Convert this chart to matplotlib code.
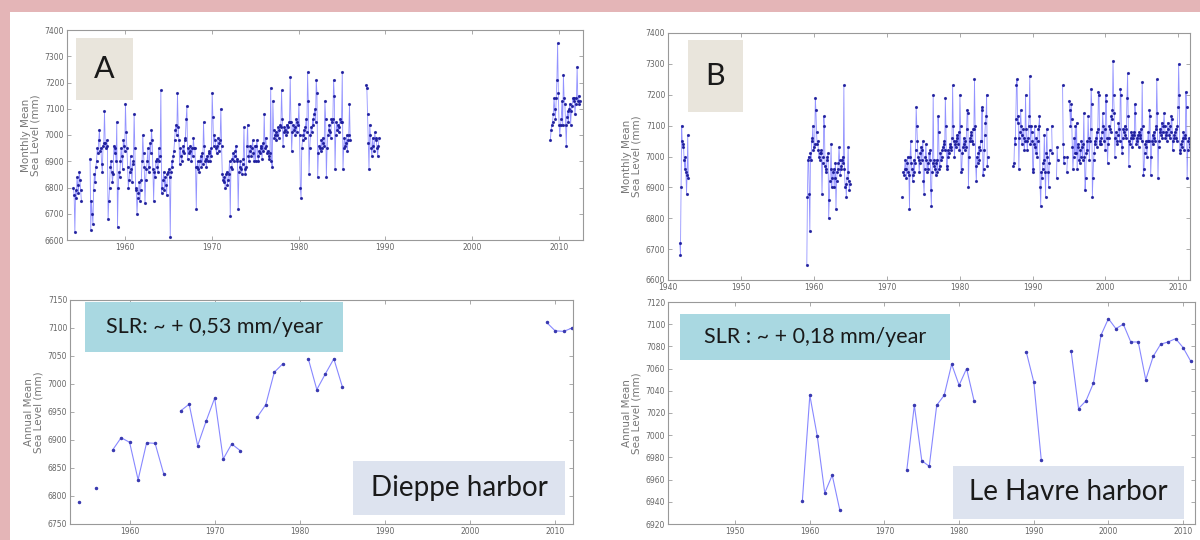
import numpy as np
import matplotlib.pyplot as plt
from matplotlib.patches import Rectangle

N = None

# Dieppe monthly mean sea level (mm), one row per year, Jan..Dec
dieppe_month_years = list(range(1954, 1990)) + [2009, 2010, 2011, 2012]
dieppe_monthly = [
    [6800, 6770, 6630, 6790, 6760, 6840, 6810, 6780, 6860, 6830, 6790, 6750],
    [N, N, N, N, N, N, N, N, N, N, N, 6910],
    [6640, 6750, 6700, 6660, 6790, 6850, 6820, 6880, 6900, 6950, 6930, 6980],
    [7020, 6940, 6950, 6890, 6860, 6960, 6970, 7090, 6970, 6950, 6980, 6960],
    [6680, 6750, 6800, 6880, 6900, 6860, 6820, 6850, 6960, 6930, 6950, 6900],
    [7050, 6650, 6800, 6860, 6840, 6900, 6950, 6920, 6870, 6980, 6960, 6940],
    [7120, 7010, 6950, 6880, 6800, 6830, 6860, 6920, 6870, 6820, 6890, 6900],
    [7080, 6950, 6800, 6790, 6700, 6760, 6780, 6820, 6750, 6790, 6830, 6900],
    [7000, 6930, 6880, 6740, 6830, 6870, 6900, 6950, 6860, 6880, 6970, 6930],
    [7020, 6980, 6870, 6750, 6860, 6840, 6900, 6910, 6880, 6860, 6950, 6900],
    [6920, 7170, 6780, 6800, 6830, 6860, 6790, 6840, 6810, 6770, 6850, 6860],
    [6870, 6840, 6610, 6860, 6900, 6880, 6920, 6940, 6980, 7020, 7040, 7000],
    [7160, 7030, 6980, 6890, 6950, 6920, 6900, 6940, 6960, 6930, 6980, 6990],
    [7060, 7110, 6910, 6950, 6930, 6940, 6960, 6900, 6950, 6920, 6990, 6950],
    [6950, 6880, 6720, 6880, 6900, 6870, 6860, 6900, 6920, 6880, 6930, 6890],
    [7050, 6960, 6900, 6910, 6880, 6920, 6900, 6930, 6940, 6900, 6950, 6920],
    [7160, 7070, 6960, 7000, 6980, 6950, 6930, 6960, 6990, 6940, 6970, 6980],
    [7100, 6960, 6850, 6830, 6820, 6840, 6800, 6850, 6860, 6810, 6830, 6850],
    [6900, 6690, 6880, 6870, 6910, 6930, 6900, 6920, 6940, 6960, 6910, 6900],
    [6720, 6860, 6880, 6900, 6870, 6850, 6890, 6910, 7030, 6870, 6850, 6880],
    [6960, 7040, 6920, 6900, 6940, 6960, 6920, 6950, 6980, 6930, 6900, 6960],
    [6900, 6960, 6980, 6920, 6900, 6940, 6930, 6960, 6950, 6910, 6970, 6940],
    [7080, 6950, 6990, 6960, 6930, 6940, 6920, 6910, 6930, 7180, 6900, 6880],
    [7130, 7020, 6990, 7000, 7010, 6980, 7000, 7030, 6990, 7020, 7040, 7030],
    [7170, 7060, 6960, 7010, 7030, 7020, 7000, 7040, 7010, 7030, 7050, 7050],
    [7220, 7050, 6940, 7010, 7040, 7020, 7030, 7000, 7060, 7010, 7050, 7040],
    [7120, 7000, 6800, 6760, 6950, 6980, 7000, 7020, 6990, 7030, 7060, 7010],
    [7240, 7130, 6850, 6950, 7000, 7030, 7010, 7060, 7040, 7080, 7100, 7050],
    [7210, 7160, 6840, 6930, 6960, 6950, 6940, 6980, 6950, 6990, 6970, 6960],
    [7130, 7060, 6840, 6950, 7000, 7020, 7040, 7010, 6990, 7060, 7050, 7060],
    [7210, 7150, 6870, 7000, 7050, 7020, 7040, 7010, 7030, 7060, 7050, 7050],
    [7240, 6870, 6950, 6990, 6960, 6970, 7000, 6940, 6980, 7000, 7120, 6980],
    [N, N, N, N, N, N, N, N, N, N, N, N],
    [N, N, N, N, N, N, N, N, N, 7190, 7180, 7080],
    [6970, 6870, 7040, 7000, 6950, 6920, 6990, 6960, 6940, 7010, 6980, 6990],
    [6950, 6920, 6960, 6990, N, N, N, N, N, N, N, N],
    [6980, 7020, 7040, 7050, 7080, 7140, 7100, 7060, 7140, 7210, 7350, 7160],
    [7040, 7000, 7040, 7060, 7130, 7040, 7230, 7140, 7120, 7040, 6960, 7070],
    [7090, 7050, 7100, 7120, 7040, 7090, 7110, 7140, 7130, 7140, 7080, 7120],
    [7140, 7260, 7130, 7150, 7120, 7130, N, N, N, N, N, N],
]

# Le Havre monthly mean sea level (mm)
havre_month_years = [1941, 1942] + list(range(1959, 1965)) + list(range(1972, 1984)) + list(range(1987, 2013))
havre_monthly = [
    [N, N, N, N, N, N, N, 6720, 6680, 6900, 7100, 7050],
    [7030, 7040, 6990, 6960, 7000, 6950, 6880, 6940, 7070, 6930, N, N],
    [6650, 6870, 6990, 7000, 6880, 6760, 7010, 6990, 7050, 7060, 7100, 7020],
    [7030, 7040, 7190, 7150, 7080, 7040, 7050, 7020, 7000, 6990, 7010, 7020],
    [7010, 6880, 6980, 7000, 7130, 7100, 6970, 6950, 6960, 6990, 7000, 7010],
    [6800, 6860, 6920, 6960, 7040, 6900, 6930, 6950, 6960, 6900, 6930, 6980],
    [6830, 6920, 6950, 6960, 6980, 7030, 6990, 6940, 6960, 6970, 6990, 7000],
    [6980, 7230, 6960, 6900, 6910, 6870, 6930, 6950, 7030, 6920, 6890, 6910],
    [6870, N, N, 6950, 6940, 6960, 6990, 6960, 6930, 6980, 7000, 6950],
    [6940, 6830, 7000, 7050, 6980, 6960, 6920, 6940, 6990, 6950, 6980, 7020],
    [7160, 7100, 7050, 7000, 6990, 6950, 6980, 7010, 7030, 6990, 7020, 7050],
    [6920, 6880, 6960, 7000, 7040, 6990, 6950, 6980, 6960, 7010, 6990, 7020],
    [6890, 6840, 6950, 6980, 7200, 6990, 6970, 6960, 6940, 6980, 6990, 6950],
    [7130, 7080, 6960, 6970, 7010, 6990, 7000, 7020, 7030, 7040, 7050, 7020],
    [7190, 7100, 6970, 6960, 7020, 7000, 7010, 7030, 7040, 7020, 7030, 7060],
    [7230, 7100, 7050, 7000, 7040, 7030, 7050, 7070, 7060, 7040, 7080, 7020],
    [7200, 7100, 6950, 6960, 7010, 7030, 7060, 7040, 7020, 7050, 7030, 7090],
    [7150, 7140, 6900, 7000, 7050, 7060, 7070, 7080, 7050, 7040, 7090, 7090],
    [7250, 7100, 6970, 6920, 7000, 6980, 7010, 7030, 6990, 7020, 7050, 7050],
    [7160, 7150, 6940, 6960, 7020, 7070, 7110, 7130, 7200, 6970, 7000, N],
    [N, N, N, N, 6970, 6980, 7060, 7040, 7120, 7230, 7250, 7110],
    [7130, 6960, 7060, 7080, 7150, 7100, 7040, 7070, 7090, 7060, 7020, 7050],
    [7200, 7090, 7050, 7020, 7060, 7100, 7130, 7260, 7040, 7100, 7080, 7050],
    [6950, 6960, 7040, 7100, 7030, 7010, 7060, 7000, 7050, 7090, 7100, 7130],
    [6900, 6840, 6950, 6930, 6960, 6980, 6990, 7070, 6950, 6870, 7010, 7090],
    [7000, 6950, 6900, 6980, 7020, N, N, 7100, 7010, N, N, N],
    [N, N, N, 6930, 7030, 6990, N, N, N, N, N, N],
    [N, 7230, 7040, 6980, 7000, N, N, N, 6950, 7000, N, N],
    [7180, 7150, 7100, 7170, 7120, 7030, 6960, 7000, 7060, 7010, 7100, 7010],
    [7110, 6960, 7040, 7030, 6990, 6980, 7020, 7000, 7050, 7030, 6990, 7040],
    [7140, 7000, 6890, 6930, 7010, 7050, 7020, 7130, 7060, 6990, 7050, 7090],
    [7220, 7170, 6870, 6930, 6990, 7010, 7050, 7040, 7060, 7080, 7030, 7090],
    [7210, 7200, 7040, 7050, 7040, 7060, 7080, 7140, 7100, 7050, 7090, 7020],
    [7200, 7180, 7060, 6980, 7040, 7060, 7100, 7090, 7080, 7130, 7120, 7150],
    [7310, 7200, 7140, 7000, 7060, 7080, 7050, 7040, 7070, 7110, 7090, 7050],
    [7220, 7200, 7030, 7010, 7060, 7090, 7080, 7100, 7070, 7060, 7090, 7190],
    [7270, 7130, 6970, 7050, 7040, 7060, 7080, 7070, 7030, 7060, 7080, 7070],
    [7170, 7140, 7040, 7050, 7060, 7070, 7030, 7080, 7070, 7060, 7090, 7050],
    [7240, 7100, 6940, 6960, 7010, 7040, 7050, 7030, 7000, 7050, 7080, 7050],
    [7150, 7130, 6940, 7000, 7050, 7070, 7040, 7080, 7060, 7050, 7090, 7100],
    [7250, 7140, 6930, 7030, 7050, 7080, 7090, 7070, 7110, 7060, 7080, 7100],
    [7140, 7100, 7060, 7070, 7080, 7050, 7110, 7090, 7070, 7060, 7100, 7080],
    [7130, 7120, 7020, 7050, 7060, 7070, 7080, 7090, 7060, 7050, 7100, 7160],
    [7300, 7200, 7020, 7010, 7040, 7030, 7050, 7060, 7080, 7020, 7070, 7060],
    [7210, 7160, 6930, 7020, 7050, 7060, 7040, 7030, 7060, 7070, 7110, 7120],
    [7190, 7130, N, N, N, N, N, N, N, N, N, N],
]

# annual means (mm)
dieppe_years = [1954, 1956] + list(range(1958, 1965)) + list(range(1966, 1974)) \
    + list(range(1975, 1979)) + list(range(1981, 1986)) + list(range(2009, 2013))
dieppe_annual = [6789, 6815,
                 6882, 6904, 6896, 6829, 6895, 6894, 6840,
                 6952, 6964, 6890, 6934, 6975, 6866, 6893, 6881,
                 6941, 6963, 7021, 7036,
                 7045, 6990, 7018, 7045, 6995,
                 7110, 7095, 7094, 7100]

havre_years = list(range(1959, 1965)) + list(range(1973, 1983)) \
    + list(range(1989, 1992)) + list(range(1995, 2012))
havre_annual = [6941, 7036, 6999, 6948, 6964, 6933,
                6969, 7027, 6977, 6972, 7027, 7036, 7064, 7045, 7060, 7031,
                7075, 7048, 6978,
                7076, 7024, 7031, 7047, 7090, 7105, 7096, 7100, 7084, 7084,
                7050, 7071, 7082, 7084, 7087, 7079, 7067]


def monthly_xy(years, rows):
    x, y = [], []
    prev = None
    for yr, row in zip(years, rows):
        if prev is not None and yr != prev + 1:
            x.append(np.nan)
            y.append(np.nan)
        for m, v in enumerate(row):
            x.append(yr + m / 12.0 + 0.04)
            y.append(np.nan if v is None else v)
        prev = yr
    return np.array(x, dtype=float), np.array(y, dtype=float)


def annual_xy(years, vals):
    # break the line where a year is missing
    x, y = [], []
    for i, (yr, v) in enumerate(zip(years, vals)):
        if i > 0 and yr != years[i - 1] + 1:
            x.append(np.nan)
            y.append(np.nan)
        x.append(yr)
        y.append(v)
    return np.array(x, dtype=float), np.array(y, dtype=float)


def style(ax, xt, yt, xlim, ylim, ylabel):
    ax.set_xlim(*xlim)
    ax.set_ylim(*ylim)
    ax.set_xticks(xt)
    ax.set_yticks(yt)
    ax.tick_params(direction="in", top=True, right=True, length=3, width=0.5,
                   color="#888888", labelsize=5.5, labelcolor="#666666", pad=2)
    for s in ax.spines.values():
        s.set_color("#999999")
        s.set_linewidth(0.8)
    ax.set_ylabel(ylabel, fontsize=7.5, color="#777777", labelpad=3, linespacing=0.95)


pink = "#e4b5b7"
fig = plt.figure(figsize=(12, 5.4), dpi=100, facecolor=pink)
fig.patches.append(Rectangle((10 / 1200, 0), 1190 / 1200, 528 / 540, transform=fig.transFigure,
                             facecolor="white", edgecolor="none", zorder=-5))


def px_axes(x0, y0, x1, y1):
    a = fig.add_axes([x0 / 1200, 1 - y1 / 540, (x1 - x0) / 1200, (y1 - y0) / 540])
    a.set_zorder(1)
    return a


line_c = "#3b3bff"
dot_c = "#1c1c9c"

# A - Dieppe monthly
ax1 = px_axes(67, 30, 583, 240)
mx, my = monthly_xy(dieppe_month_years, dieppe_monthly)
ax1.plot(mx, my, "-", color=line_c, lw=0.6, alpha=0.55)
ax1.plot(mx, my, ".", color=dot_c, ms=2.5, alpha=0.85)
style(ax1, range(1960, 2011, 10), range(6600, 7401, 100), (1953.3, 2012.8), (6600, 7400),
      "Monthly Mean\nSea Level (mm)")

# B - Le Havre monthly
ax2 = px_axes(668, 33, 1190, 280)
mx, my = monthly_xy(havre_month_years, havre_monthly)
ax2.plot(mx, my, "-", color=line_c, lw=0.6, alpha=0.55)
ax2.plot(mx, my, ".", color=dot_c, ms=2.5, alpha=0.85)
style(ax2, range(1940, 2011, 10), range(6600, 7401, 100), (1940, 2011.6), (6600, 7400),
      "Monthly Mean\nSea Level (mm)")

# A - Dieppe annual
ax3 = px_axes(70, 300, 573, 524)
ax, ay = annual_xy(dieppe_years, dieppe_annual)
ax3.plot(ax, ay, "-", color="#6a6aff", lw=0.8, alpha=0.8)
ax3.plot(ax, ay, ".", color="#3a3ab0", ms=3)
style(ax3, range(1960, 2011, 10), range(6750, 7151, 50), (1953, 2012.1), (6750, 7150),
      "Annual Mean\nSea Level (mm)")

# B - Le Havre annual
ax4 = px_axes(668, 302, 1195, 524)
ax, ay = annual_xy(havre_years, havre_annual)
ax4.plot(ax, ay, "-", color="#6a6aff", lw=0.8, alpha=0.8)
ax4.plot(ax, ay, ".", color="#3a3ab0", ms=3)
style(ax4, range(1950, 2011, 10), range(6920, 7121, 20), (1941, 2011.6), (6920, 7120),
      "Annual Mean\nSea Level (mm)")


def label_box(x0, y0, x1, y1, text, fc, size):
    fig.patches.append(Rectangle((x0 / 1200, 1 - y1 / 540), (x1 - x0) / 1200, (y1 - y0) / 540,
                                 transform=fig.transFigure, facecolor=fc, edgecolor="none", zorder=5))
    fig.text((x0 + x1) / 2400, 1 - (y0 + y1) / 1080, text, ha="center", va="center",
             fontsize=size, color="#1a1a1a", family="Lato", zorder=6)


label_box(76, 38, 133, 100, "A", "#e9e5dc", 22)
label_box(688, 40, 743, 112, "B", "#e9e5dc", 22)
label_box(85, 302, 343, 352, "SLR: ~ + 0,53 mm/year", "#a9d8e1", 15.5)
label_box(680, 314, 950, 360, "SLR : ~ + 0,18 mm/year", "#a9d8e1", 15.5)
label_box(353, 461, 565, 515, "Dieppe harbor", "#dde3ef", 20)
label_box(953, 466, 1184, 519, "Le Havre harbor", "#dde3ef", 20)

fig.savefig("out.png", dpi=100, facecolor=pink)
